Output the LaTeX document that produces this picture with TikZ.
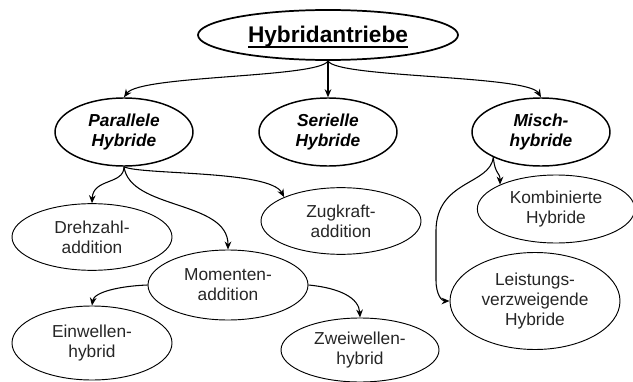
\documentclass[tikz,border=0pt]{standalone}
\usepackage{fontspec}
\setmainfont{Liberation Sans}
\usetikzlibrary{arrows.meta,shapes.geometric}
\newcommand{\ulword}[1]{\setbox0\hbox{#1}\leavevmode\rlap{\rule[-4.5pt]{\wd0}{1.4pt}}\box0}

\begin{document}
\begin{tikzpicture}[x=0.75pt, y=-0.75pt, >={Stealth[length=6pt,width=5pt]}, font=\fontsize{13}{15}\selectfont]
  \tikzset{rootbox/.style={draw, ellipse, line width=1.3pt, inner sep=0pt, minimum width=195pt, minimum height=37.5pt, text height=15pt, text depth=4.5pt, font=\fontsize{17}{20}\selectfont\bfseries},typebox/.style={draw, ellipse, line width=1.1pt, inner sep=0pt, align=center, minimum width=103.5pt, minimum height=51pt, font=\fontsize{13}{15}\selectfont\bfseries\itshape},leafbox/.style={draw, ellipse, line width=0.7pt, inner sep=0pt, align=center, minimum width=120pt, minimum height=50pt, text=black!85},link/.style={->, line width=0.8pt}}
  \useasboundingbox (0,0) rectangle (633,382);
  \node[rootbox] (root) at (328,35) {\ulword{Hybridantriebe}};
  \node[typebox] (par) at (124,132) {Parallele\\Hybride};
  \node[typebox] (ser) at (328,132) {Serielle\\Hybride};
  \node[typebox] (misch) at (541,132) {Misch-\\hybride};
  \node[leafbox] (dreh) at (92,237) {Drehzahl-\\addition};
  \node[leafbox] (zug) at (341,221) {Zugkraft-\\addition};
  \node[leafbox, minimum width=118pt, minimum height=51pt] (komb) at (556,209) {Kombinierte\\Hybride};
  \node[leafbox, minimum height=52.5pt] (mom) at (228,285) {Momenten-\\addition};
  \node[leafbox, minimum width=127.5pt, minimum height=72.75pt] (leist) at (535,301) {Leistungs-\\verzweigende\\Hybride};
  \node[leafbox, minimum height=55.5pt] (einw) at (92,343) {Einwellen-\\hybrid};
  \node[leafbox, minimum width=118.5pt, minimum height=48pt] (zwei) at (360,350) {Zweiwellen-\\hybrid};
  \draw[link] (root.south) .. controls (320,78) and (140,75) .. (par.north);
  \draw[link] (root) -- (ser);
  \draw[link] (root.south) .. controls (336,78) and (528,75) .. (misch.north);
  \draw[link] (par.south) .. controls (124,185) and (93,178) .. (dreh.north);
  \draw[link] (par.south) .. controls (130,210) and (228,200) .. (mom.north);
  \draw[link] (par.south) .. controls (140,175) and (270,170) .. (zug.north west);
  \draw[link] (misch.208) .. controls (495,175) and (500,172) .. (komb.north west);
  \draw[link] (misch.208) .. controls (490,185) and (437,180) .. (436,230) -- (436,280) .. controls (436,295) and (442,301) .. (leist.west);
  \draw[link] (mom.west) .. controls (120,286) and (94,292) .. (einw.north);
  \draw[link] (mom.east) .. controls (340,288) and (359,298) .. (zwei.north);
\end{tikzpicture}
\end{document}
